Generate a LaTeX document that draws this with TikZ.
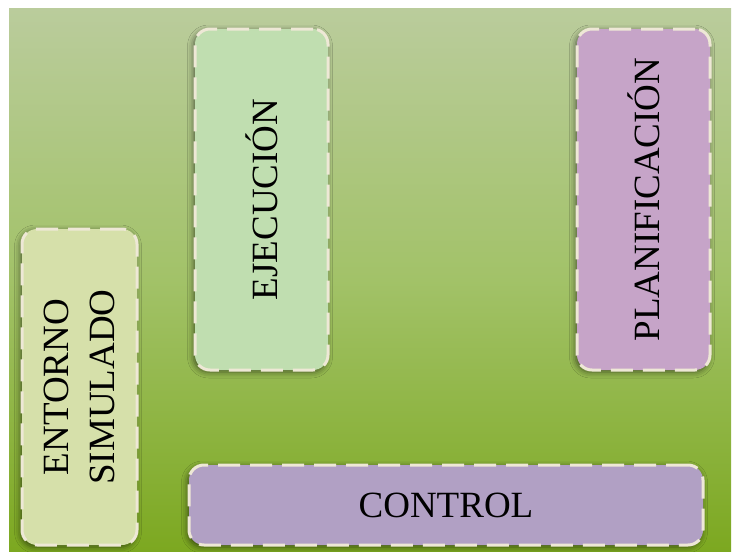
\documentclass[tikz,border=0pt]{standalone}
\usepackage{fontspec}
\setmainfont{Liberation Serif}
\usetikzlibrary{shadows.blur}

\definecolor{bgtop}{RGB}{186,204,156}
\definecolor{bgmid}{RGB}{162,194,104}
\definecolor{bgbot}{RGB}{124,168,32}
\definecolor{rim}{RGB}{238,232,214}
\definecolor{ejecfill}{RGB}{192,222,176}
\definecolor{planfill}{RGB}{198,164,200}
\definecolor{entfill}{RGB}{214,224,170}
\definecolor{ctrlfill}{RGB}{177,160,196}

\tikzset{
  block/.style={draw=rim, line width=3pt, dash pattern=on 22pt off 10pt,
    rounded corners=15pt, inner sep=0pt,
    blur shadow={shadow xshift=-1.5pt, shadow yshift=-2pt,
      shadow blur radius=6pt, shadow opacity=55}},
  label/.style={font=\fontsize{37}{46}\selectfont, text=black, align=center},
}

\begin{document}
\begin{tikzpicture}[x=1pt, y=-1pt]
  \useasboundingbox (0,0) rectangle (732,552);
  % backdrop with vertical gradient
  \shade[top color=bgtop, bottom color=bgbot, middle color=bgmid]
    (9,8) rectangle (731,552);

  \node[block, fill=ejecfill, minimum width=133pt, minimum height=341pt]
    (ejec) at (261.5,199.5) {};
  \node[label, rotate=90] (eject) at (ejec.center) {EJECUCIÓN};

  \node[block, fill=planfill, minimum width=133pt, minimum height=341pt]
    (plan) at (643.5,199.5) {};
  \node[label, rotate=90] (plant) at (plan.center) {PLANIFICACIÓN};

  \node[block, fill=entfill, minimum width=115pt, minimum height=316pt]
    (ent) at (79.5,387) {};
  \node[label, rotate=90] (entt) at (ent.center) {ENTORNO\\SIMULADO};

  \node[block, fill=ctrlfill, minimum width=514pt, minimum height=80pt]
    (ctrl) at (446,505) {};
  \node[label] (ctrlt) at (ctrl.center) {CONTROL};
\end{tikzpicture}
\end{document}
